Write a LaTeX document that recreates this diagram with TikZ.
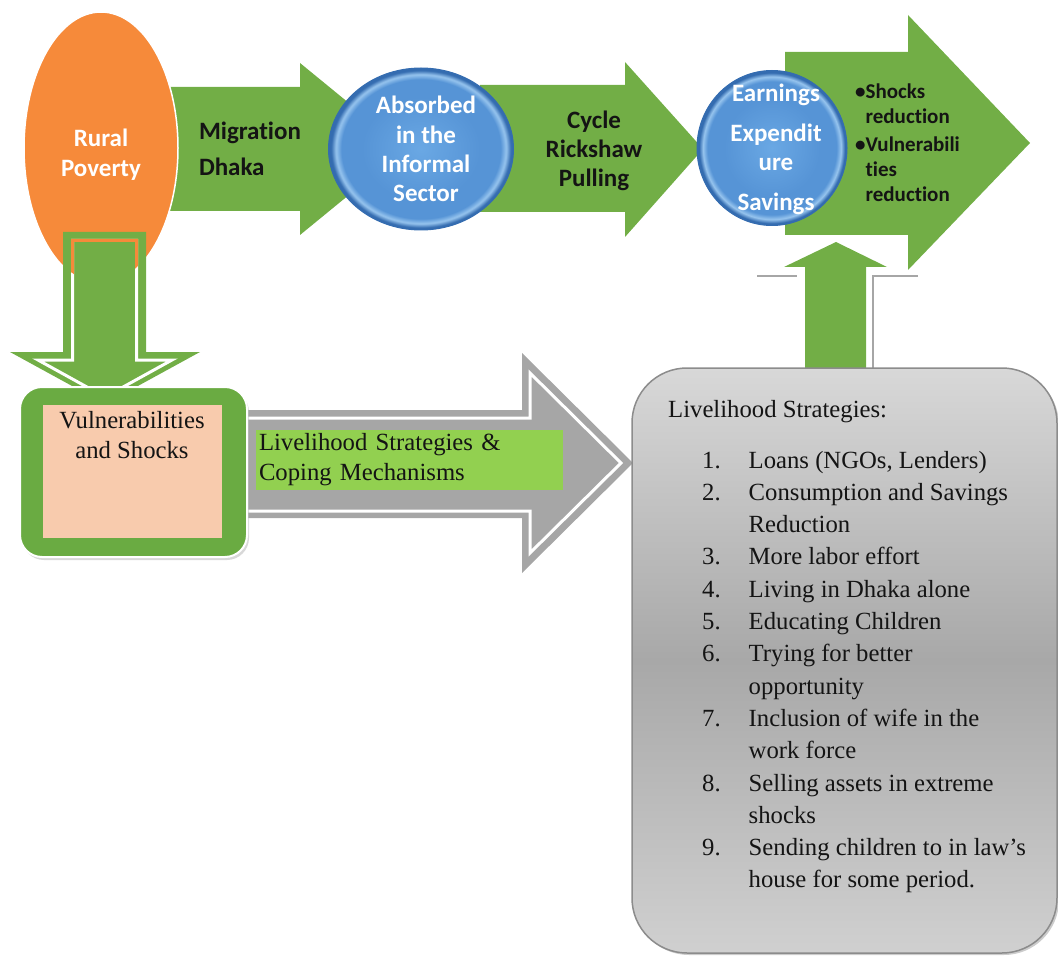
\documentclass[tikz,border=0pt]{standalone}
\usepackage{fontspec}
\setmainfont{Liberation Serif}
\newfontfamily\calibri[Ligatures={NoCommon,NoContextual}]{Carlito}
\usetikzlibrary{shapes.geometric,shadows}
\definecolor{arrgreen}{RGB}{114,174,70}
\definecolor{boxgreen}{RGB}{106,171,66}
\definecolor{labgreen}{RGB}{146,208,80}
\definecolor{orng}{RGB}{246,138,58}
\definecolor{peach}{RGB}{248,203,173}
\definecolor{arrgrey}{RGB}{166,166,166}
\definecolor{boxgreyA}{RGB}{216,216,216}
\definecolor{boxgreyB}{RGB}{168,168,168}
\definecolor{boxgreyC}{RGB}{208,208,208}
\definecolor{boxedge}{RGB}{140,140,140}
\definecolor{blueA}{RGB}{106,168,228}
\definecolor{blueB}{RGB}{86,148,214}
\definecolor{blueRim}{RGB}{150,196,238}
\definecolor{blueEdge}{RGB}{52,108,176}
\definecolor{ink}{RGB}{20,20,20}
\pgfdeclareradialshading{bluegloss}{\pgfpoint{0bp}{0bp}}{color(0bp)=(blueA); color(16bp)=(blueB); color(21.5bp)=(blueB); color(23bp)=(blueRim); color(24.3bp)=(blueEdge); color(25bp)=(blueEdge); color(50bp)=(blueEdge)}
\begin{document}
\begin{tikzpicture}[x=1pt,y=-1pt,
  sansw/.style={font=\calibri\bfseries\fontsize{25}{29.3}\selectfont, text=white, align=center, inner sep=0pt},
  sansk/.style={font=\calibri\bfseries\fontsize{25}{29.3}\selectfont, text=ink, inner sep=0pt},
  serif/.style={font=\fontsize{24.7}{30}\selectfont, text=ink, inner sep=0pt},
  bluecirc/.style={ellipse, shading=bluegloss, draw=blueEdge, line width=1pt, inner sep=0pt},
  gapline/.style={line width=3pt, line join=miter},
]
\useasboundingbox (0,0) rectangle (1058,960);

% top green arrows
\fill[arrgreen] (150,87)--(300,87)--(300,63)--(405,149)--(300,235)--(300,211)--(150,211)--cycle;
\fill[arrgreen] (480,85)--(625,85)--(625,62)--(703,149)--(625,237)--(625,212)--(480,212)--cycle;
% outline behind the up arrow
\draw[arrgrey, line width=2pt] (757,276)--(797,276);
\draw[arrgrey, line width=2pt] (918,276)--(873,276)--(873,375);
\fill[arrgreen] (785,52)--(908,52)--(908,15)--(1030,143)--(908,270)--(908,235)--(785,235)--cycle;

% rural poverty ellipse
\node[ellipse, fill=orng, draw=white, line width=1.5pt, minimum width=154pt, minimum height=272pt, inner sep=0pt] (rural) at (101,148) {};
\node[sansw, font=\calibri\bfseries\fontsize{25}{30}\selectfont] (ruraltxt) at (101,155) {Rural\\Poverty};

% blue circles
\node[bluecirc, minimum width=185pt, minimum height=162pt] (absorbed) at (421,149) {};
\node[bluecirc, minimum width=150pt, minimum height=155pt] (earn) at (772,148) {};

% top texts
\node[sansk, align=left, font=\calibri\bfseries\fontsize{25}{36}\selectfont] (migr) at (250,149) {Migration\\Dhaka};
\node[sansw] (abstxt) at (426,149) {Absorbed\\in the\\Informal\\Sector};
\node[sansk, align=center, font=\calibri\bfseries\fontsize{25}{29}\selectfont] (cycle) at (594,151) {Cycle\\Rickshaw\\Pulling};
\node[sansw, font=\calibri\bfseries\fontsize{25}{29}\selectfont] (earntxt) at (776,149.5) {Earnings\\[11pt]Expendit\\ure\\[11pt]Savings};
\node[sansk, anchor=base west, font=\calibri\bfseries\fontsize{21}{25}\selectfont] (bullets) at (855,99)
  {\begin{tabular}[t]{@{}l@{}l@{}}•&Shocks\\ &reduction\\[3pt]•&Vulnerabili\\ &ties\\ &reduction\end{tabular}};

% up arrow
\fill[arrgreen] (805,375)--(805,267)--(784,267)--(836,242)--(887,267)--(866,267)--(866,375)--cycle;

% down arrow from rural poverty
\fill[arrgreen] (63,232)--(146,232)--(146,352)--(200,352)--(105,404)--(10,352)--(63,352)--cycle;
\draw[white, gapline] (72.5,240.5)--(136.5,240.5)--(136.5,360)--(172,360)--(105,397)--(38,360)--(72.5,360)--cycle;
\begin{scope}
  \clip (101,148) ellipse [x radius=76, y radius=135];
  \draw[orng, gapline] (72.5,240.5)--(136.5,240.5)--(136.5,360)--(172,360)--(105,397)--(38,360)--(72.5,360)--cycle;
\end{scope}

% grey arrow
\fill[arrgrey] (240,410)--(522,410)--(522,353)--(633,463)--(522,573)--(522,518)--(240,518)--cycle;
\draw[white, gapline] (230,418)--(530,418)--(530,373)--(621,463)--(530,553)--(530,511)--(230,511);

% vulnerabilities box
\node[rectangle, rounded corners=22pt, fill=boxgreen, draw=white, line width=2pt, minimum width=227pt, minimum height=170pt,
      drop shadow={shadow xshift=2pt, shadow yshift=-3pt, fill=black!30}] (vulnbox) at (133.5,472) {};
\node[rectangle, fill=peach, minimum width=179pt, minimum height=133pt, inner sep=0pt] (vulnin) at (132.5,471.5) {};
\node[serif, align=center] (vulntxt) at (132,435) {Vulnerabilities\\and Shocks};

% label on grey arrow
\node[fill=labgreen, minimum width=307pt, minimum height=60pt, inner sep=0pt, text width=301pt, align=left,
      font=\fontsize{24.7}{30}\selectfont, text=ink] (label) at (409.5,460) {Livelihood Strategies \&\\Coping Mechanisms};

% strategies box
\node[rectangle, rounded corners=55pt, minimum width=425pt, minimum height=585pt, draw=boxedge, line width=1.5pt,
      top color=boxgreyA, bottom color=boxgreyC, middle color=boxgreyB,
      drop shadow={shadow xshift=2pt, shadow yshift=-2pt, fill=black!40}] (strat) at (844.5,660.5) {};
\node[serif, anchor=base west] (lstitle) at (668,417) {Livelihood Strategies:};
\node[serif, anchor=base west, font=\fontsize{24.7}{32.3}\selectfont] (list) at (702,468)
  {\begin{tabular}[t]{@{}r@{\hspace{28pt}}l@{}}
   1. & Loans (NGOs, Lenders)\\
   2. & Consumption and Savings\\
      & Reduction\\
   3. & More labor effort\\
   4. & Living in Dhaka alone\\
   5. & Educating Children\\
   6. & Trying for better\\
      & opportunity\\
   7. & Inclusion of wife in the\\
      & work force\\
   8. & Selling assets in extreme\\
      & shocks\\
   9. & Sending children to in law’s\\
      & house for some period.
   \end{tabular}};
\end{tikzpicture}
\end{document}
